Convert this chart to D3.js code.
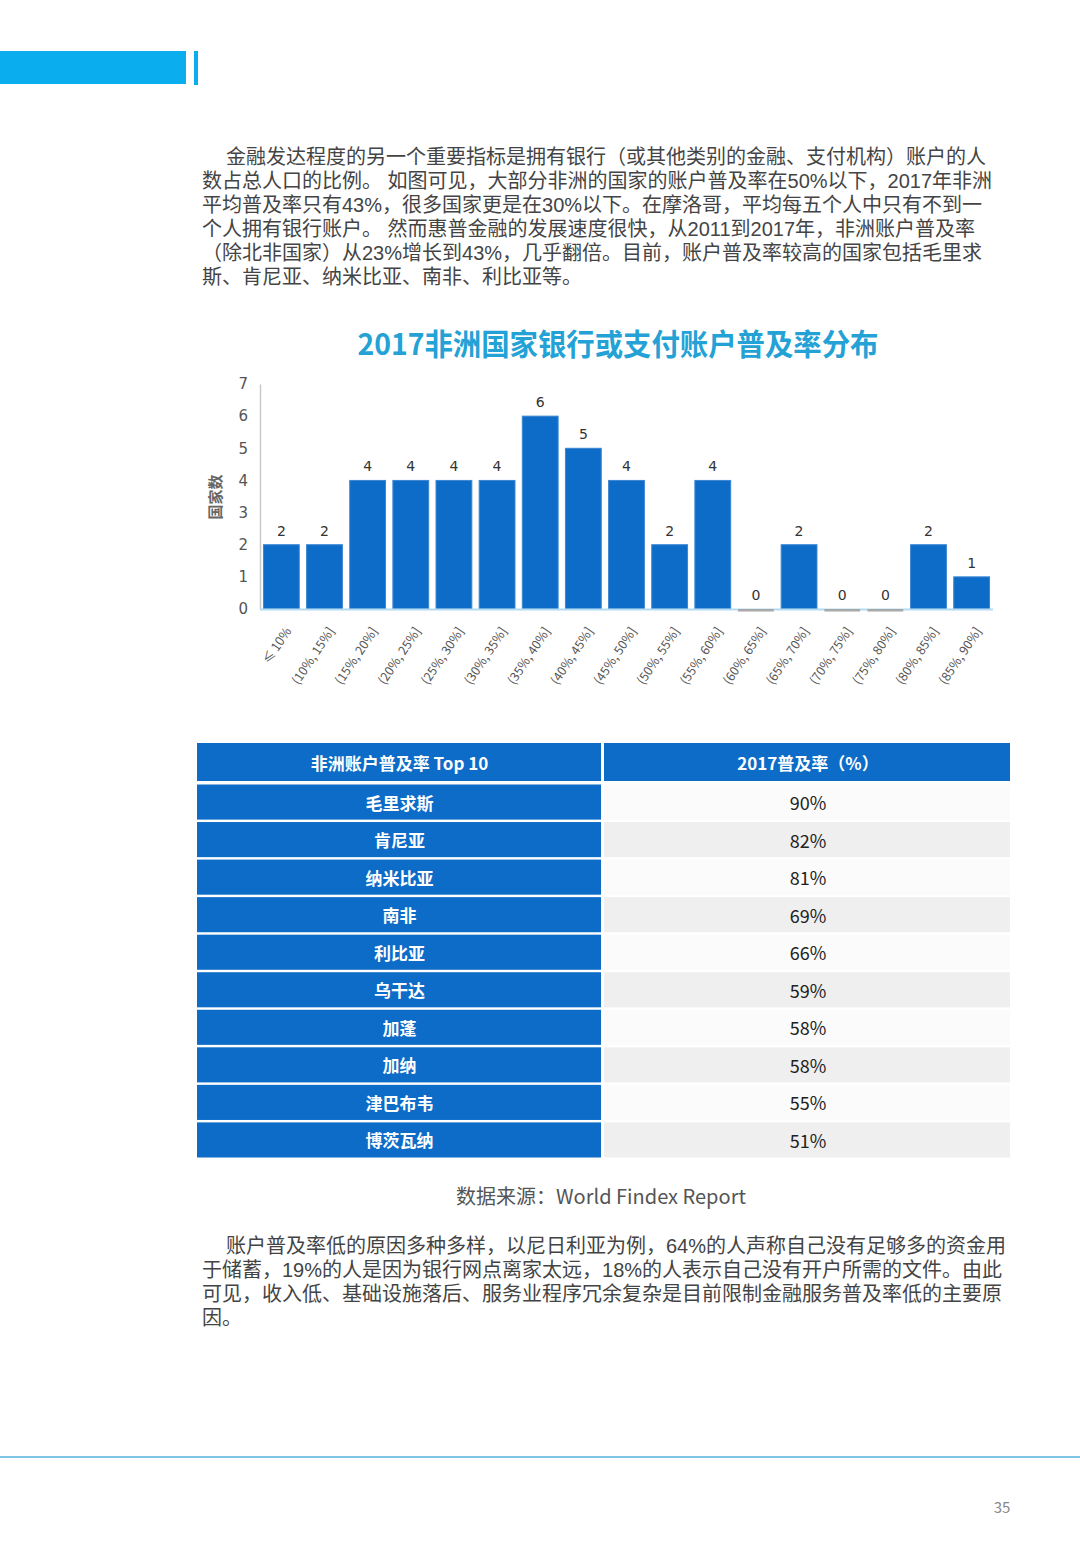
<!DOCTYPE html>
<html><head><meta charset="utf-8">
<script src="https://cdn.jsdelivr.net/npm/d3@7"></script>
<style>
html,body{margin:0;padding:0;background:#fff;}
svg{display:block;font-family:"Noto Sans CJK SC","Noto Sans",sans-serif;}
</style></head>
<body>
<svg id="page" width="1080" height="1560"></svg>
<script>
// ---------- DATA ----------
const para1 = [
  "金融发达程度的另一个重要指标是拥有银行（或其他类别的金融、支付机构）账户的人",
  "数占总人口的比例。 如图可见，大部分非洲的国家的账户普及率在50%以下，2017年非洲",
  "平均普及率只有43%，很多国家更是在30%以下。在摩洛哥，平均每五个人中只有不到一",
  "个人拥有银行账户。 然而惠普金融的发展速度很快，从2011到2017年，非洲账户普及率",
  "（除北非国家）从23%增长到43%，几乎翻倍。目前，账户普及率较高的国家包括毛里求",
  "斯、肯尼亚、纳米比亚、南非、利比亚等。"
];
const para2 = [
  "账户普及率低的原因多种多样，以尼日利亚为例，64%的人声称自己没有足够多的资金用",
  "于储蓄，19%的人是因为银行网点离家太远，18%的人表示自己没有开户所需的文件。由此",
  "可见，收入低、基础设施落后、服务业程序冗余复杂是目前限制金融服务普及率低的主要原",
  "因。"
];
const chartTitle = "2017非洲国家银行或支付账户普及率分布";
const yAxisLabel = "国家数";
const categories = ["≤ 10%","(10%, 15%]","(15%, 20%]","(20%, 25%]","(25%, 30%]","(30%, 35%]",
  "(35%, 40%]","(40%, 45%]","(45%, 50%]","(50%, 55%]","(55%, 60%]","(60%, 65%]",
  "(65%, 70%]","(70%, 75%]","(75%, 80%]","(80%, 85%]","(85%, 90%]"];
const counts = [2,2,4,4,4,4,6,5,4,2,4,0,2,0,0,2,1];
const yTicks = [0,1,2,3,4,5,6,7];
const tableHeader = ["非洲账户普及率 Top 10","2017普及率（%）"];
const countries = ["毛里求斯","肯尼亚","纳米比亚","南非","利比亚","乌干达","加蓬","加纳","津巴布韦","博茨瓦纳"];
const rates = [90,82,81,69,66,59,58,58,55,51];
const sourceText = "数据来源：World Findex Report";
const pageNumber = "35";

// ---------- DRAW ----------
const svg = d3.select("#page");
svg.append("rect").attr("width",1080).attr("height",1560).attr("fill","#fff");

// header decoration
svg.append("rect").attr("x",0).attr("y",51).attr("width",186).attr("height",33).attr("fill","#0aaeee");
svg.append("rect").attr("x",194).attr("y",51).attr("width",4).attr("height",34).attr("fill","#0aaeee");

// paragraphs (Latin primary font with tighter line box; CJK falls back to Noto Sans CJK)
function paragraph(lines, y0, lh){
  const g = svg.append("g").attr("fill","#444").attr("font-size",20)
    .attr("font-family","'Liberation Sans Narrow','Liberation Sans','Noto Sans CJK SC',sans-serif");
  g.selectAll("text").data(lines).join("text")
    .attr("x",(d,i)=> i===0 ? 226 : 202)
    .attr("y",(d,i)=> y0 + i*lh + 8.5)
    .text(d=>d);
}
paragraph(para1, 155, 24);
paragraph(para2, 1244, 24);

// chart title
svg.append("text").attr("x",618).attr("y",342)
  .attr("text-anchor","middle").attr("dominant-baseline","central")
  .attr("font-size",30).attr("font-weight","bold").attr("fill","#24a2d6")
  .attr("textLength",521).attr("lengthAdjust","spacingAndGlyphs")
  .text(chartTitle);

// chart
const x = d3.scaleBand().domain(categories).range([260,993]).paddingInner(0.17).paddingOuter(0.08);
const y = d3.scaleLinear().domain([0,7]).range([609,384]);

// y axis
const yAxis = svg.append("g").attr("transform","translate(260,0)")
  .call(d3.axisLeft(y).tickValues(yTicks).tickFormat(d3.format("d")).tickSize(0).tickPadding(12));
yAxis.select(".domain").attr("stroke","#c8c8c8").attr("stroke-width",1.5);
yAxis.selectAll("text").attr("font-size",15).attr("fill","#555")
  .attr("font-family","'DejaVu Sans','Noto Sans',sans-serif");

svg.append("text").attr("transform","translate(214,497) rotate(-90)")
  .attr("text-anchor","middle").attr("dominant-baseline","central")
  .attr("font-size",15).attr("font-weight","bold").attr("fill","#666").text(yAxisLabel);

// bars
const data = categories.map((c,i)=>({c, v:counts[i]}));
svg.append("g").selectAll("rect").data(data.filter(d=>d.v>0)).join("rect")
  .attr("x",d=>x(d.c)).attr("width",x.bandwidth())
  .attr("y",d=>y(d.v)).attr("height",d=>y(0)-y(d.v))
  .attr("fill","#0c6cc7").attr("stroke","#3b86d2").attr("stroke-width",1);

// baseline
svg.append("line").attr("x1",260).attr("x2",993).attr("y1",y(0)+0.5).attr("y2",y(0)+0.5)
  .attr("stroke","#b3dcf3").attr("stroke-width",2);
// zero markers
svg.append("g").selectAll("rect").data(data.filter(d=>d.v===0)).join("rect")
  .attr("x",d=>x(d.c)).attr("width",x.bandwidth())
  .attr("y",y(0)).attr("height",2.5).attr("fill","#a8a8a8");

// value labels
svg.append("g").selectAll("text").data(data).join("text")
  .attr("x",d=>x(d.c)+x.bandwidth()/2).attr("y",d=>y(d.v)-9)
  .attr("text-anchor","middle").attr("font-size",14).attr("fill","#333")
  .attr("font-family","'DejaVu Sans','Noto Sans',sans-serif")
  .text(d=>d.v);

// x labels
svg.append("g").selectAll("text").data(categories).join("text")
  .attr("transform",d=>`translate(${x(d)+x.bandwidth()/2+6},628) rotate(-56)`)
  .attr("text-anchor","end").attr("dominant-baseline","central")
  .attr("font-size",12.5).attr("fill","#555")
  .text(d=>d);

// table
const tx0 = 197, tsplit = 602, tx1 = 1010;
const hdr = svg.append("g");
hdr.append("rect").attr("x",tx0).attr("y",743).attr("width",tsplit-1-tx0).attr("height",38).attr("fill","#0c6cc7");
hdr.append("rect").attr("x",tsplit+2).attr("y",743).attr("width",tx1-tsplit-2).attr("height",38).attr("fill","#0c6cc7");
hdr.selectAll("text").data(tableHeader).join("text")
  .attr("x",(d,i)=> i===0 ? (tx0+tsplit)/2 : (tsplit+tx1)/2 + 2)
  .attr("y",762).attr("text-anchor","middle").attr("dominant-baseline","central")
  .attr("font-size",17).attr("font-weight","bold").attr("fill","#fff").text(d=>d);

const rowY = d3.scaleBand().domain(countries).range([784.5,1157.5]).paddingInner(0.065);
const rows = svg.append("g").selectAll("g").data(countries.map((c,i)=>({c, r:rates[i], i}))).join("g");
rows.append("rect").attr("x",tsplit+2).attr("y",d=>rowY(d.c)).attr("width",tx1-tsplit-2)
  .attr("height",rowY.bandwidth()).attr("fill",d=> d.i%2 ? "#efefef" : "#fbfbfb");
rows.append("rect").attr("x",tx0).attr("y",d=>rowY(d.c)).attr("width",tsplit-1-tx0)
  .attr("height",rowY.bandwidth()).attr("fill","#0c6cc7");
rows.append("text").attr("x",(tx0+tsplit)/2).attr("y",d=>rowY(d.c)+rowY.bandwidth()/2)
  .attr("text-anchor","middle").attr("dominant-baseline","central")
  .attr("font-size",17).attr("font-weight","bold").attr("fill","#fff").text(d=>d.c);
rows.append("text").attr("x",(tsplit+tx1)/2+2).attr("y",d=>rowY(d.c)+rowY.bandwidth()/2)
  .attr("text-anchor","middle").attr("dominant-baseline","central")
  .attr("font-size",18).attr("fill","#222").text(d=>d.r+"%");

// source
svg.append("text").attr("x",601).attr("y",1195).attr("text-anchor","middle")
  .attr("dominant-baseline","central").attr("font-size",20).attr("fill","#555").text(sourceText);

// footer
svg.append("line").attr("x1",0).attr("x2",1080).attr("y1",1457).attr("y2",1457)
  .attr("stroke","#7ec4e6").attr("stroke-width",2);
svg.append("text").attr("x",1002).attr("y",1506).attr("text-anchor","middle")
  .attr("dominant-baseline","central").attr("font-size",15).attr("fill","#888").text(pageNumber);
</script>
</body></html>
